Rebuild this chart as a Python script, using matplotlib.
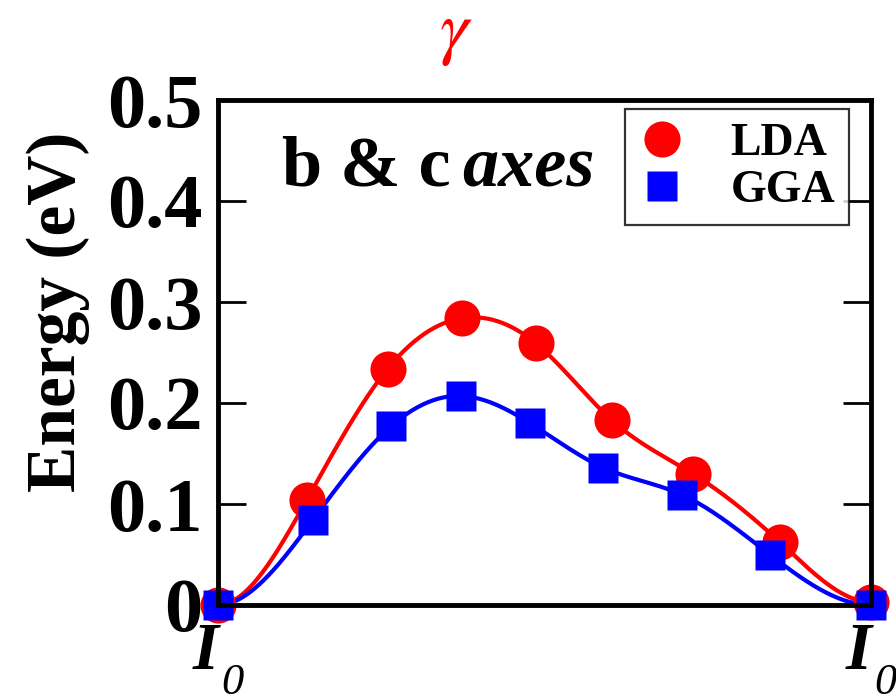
import numpy as np
import matplotlib
matplotlib.use("Agg")
import matplotlib.pyplot as plt
from matplotlib import transforms

plt.rcParams['font.family'] = ['Liberation Serif', 'DejaVu Serif']

# Data (reaction coordinate, energy in eV)
lda_x = [0.0, 0.136, 0.260, 0.374, 0.487, 0.603, 0.727, 0.861, 1.0]
lda_y = [0.0, 0.104, 0.234, 0.284, 0.259, 0.183, 0.130, 0.062, 0.003]
gga_x = [0.0, 0.145, 0.265, 0.372, 0.478, 0.590, 0.711, 0.845, 1.0]
gga_y = [0.0, 0.084, 0.177, 0.207, 0.180, 0.136, 0.109, 0.050, 0.0]
xtick_pos = [0.0, 1.0]
xtick_main = ['I', 'I']
xtick_sub = ['0', '0']
yticks = [0, 0.1, 0.2, 0.3, 0.4, 0.5]
ytick_labels = ['0', '0.1', '0.2', '0.3', '0.4', '0.5']


def clamped_spline(x, y, n=400):
    x = np.asarray(x, float); y = np.asarray(y, float)
    m = len(x); h = np.diff(x)
    A = np.zeros((m, m)); b = np.zeros(m)
    A[0, 0] = 2 * h[0]; A[0, 1] = h[0]
    b[0] = 3 * ((y[1] - y[0]) / h[0])
    A[-1, -2] = h[-1]; A[-1, -1] = 2 * h[-1]
    b[-1] = 3 * (0 - (y[-1] - y[-2]) / h[-1])
    for i in range(1, m - 1):
        A[i, i - 1] = h[i - 1]; A[i, i] = 2 * (h[i - 1] + h[i]); A[i, i + 1] = h[i]
        b[i] = 3 * ((y[i + 1] - y[i]) / h[i] - (y[i] - y[i - 1]) / h[i - 1])
    c = np.linalg.solve(A, b)
    xs = np.linspace(x[0], x[-1], n); ys = np.empty_like(xs)
    for k, xv in enumerate(xs):
        i = min(np.searchsorted(x, xv, side='right') - 1, m - 2)
        d = xv - x[i]
        bi = (y[i + 1] - y[i]) / h[i] - h[i] * (2 * c[i] + c[i + 1]) / 3
        di = (c[i + 1] - c[i]) / (3 * h[i])
        ys[k] = y[i] + bi * d + c[i] * d ** 2 + di * d ** 3
    return xs, ys


fig = plt.figure(figsize=(8.96, 6.97), dpi=100)
ax = fig.add_axes([218 / 896, 1 - 605 / 697, (871 - 218) / 896, (605 - 100) / 697])

sx, sy = clamped_spline(lda_x, lda_y)
ax.plot(sx, sy, color='red', lw=3, zorder=2, clip_on=False)
sx, sy = clamped_spline(gga_x, gga_y)
ax.plot(sx, sy, color='blue', lw=3, zorder=2, clip_on=False)
ax.plot(lda_x, lda_y, 'o', color='red', ms=26, mec='none', zorder=3, clip_on=False, label='LDA')
ax.plot(gga_x, gga_y, 's', color='blue', ms=22, mec='none', zorder=4, clip_on=False, label='GGA')

ax.set_xlim(0, 1)
ax.set_ylim(0, 0.5)
ax.set_yticks(yticks)
ax.set_yticklabels(ytick_labels, fontsize=55, fontweight='bold')
ax.set_xticks(xtick_pos)
ax.set_xticklabels(['' for _ in xtick_pos])
ax.tick_params(axis='y', direction='in', length=20, width=2, left=True, right=True, pad=11)
ax.tick_params(axis='x', length=0)
for s in ax.spines.values():
    s.set_linewidth(3.5)
    s.set_zorder(5)

# x tick labels: bold-italic I with italic subscript 0
blend = transforms.blended_transform_factory(ax.transData, ax.transAxes)
for xp, main, sub in zip(xtick_pos, xtick_main, xtick_sub):
    t_main = transforms.offset_copy(blend, fig=fig, x=-12, y=0, units='dots')
    ax.text(xp, (605 - 669) / 505, main, transform=t_main, fontsize=48,
            fontweight='bold', style='italic', ha='center', va='baseline', clip_on=False)
    t_sub = transforms.offset_copy(blend, fig=fig, x=3, y=0, units='dots')
    ax.text(xp, (605 - 694) / 505, sub, transform=t_sub, fontsize=32,
            style='italic', ha='left', va='baseline', clip_on=False)

ax.set_ylabel('Energy (eV)', fontsize=50, fontweight='bold')
ax.yaxis.set_label_coords(-0.196, 0.58)

t1 = fig.text(282 / 896, 1 - 185 / 697, 'b & c', fontsize=52, fontweight='bold',
              ha='left', va='baseline')
fig.canvas.draw()
bb = t1.get_window_extent()
fig.text((bb.x1 + 12) / 896, 1 - 185 / 697, 'axes', fontsize=52, fontweight='bold',
         style='italic', ha='left', va='baseline')

leg = ax.legend(loc='upper right', bbox_to_anchor=(0.966, 0.982), frameon=True,
                fancybox=False, prop={'family': 'Liberation Serif', 'weight': 'bold', 'size': 33},
                handlelength=1.0, handletextpad=1.0, labelspacing=0.1, borderpad=0.3,
                markerscale=1.0, borderaxespad=0)
leg.get_frame().set_edgecolor('black')
leg.get_frame().set_linewidth(1.6)
leg.set_zorder(6)

fig.text(456 / 896, 1 - 35 / 697, r'$\gamma$', color='red', fontsize=52,
         math_fontfamily='stix', ha='center', va='center')

fig.savefig('out.png', dpi=100)
